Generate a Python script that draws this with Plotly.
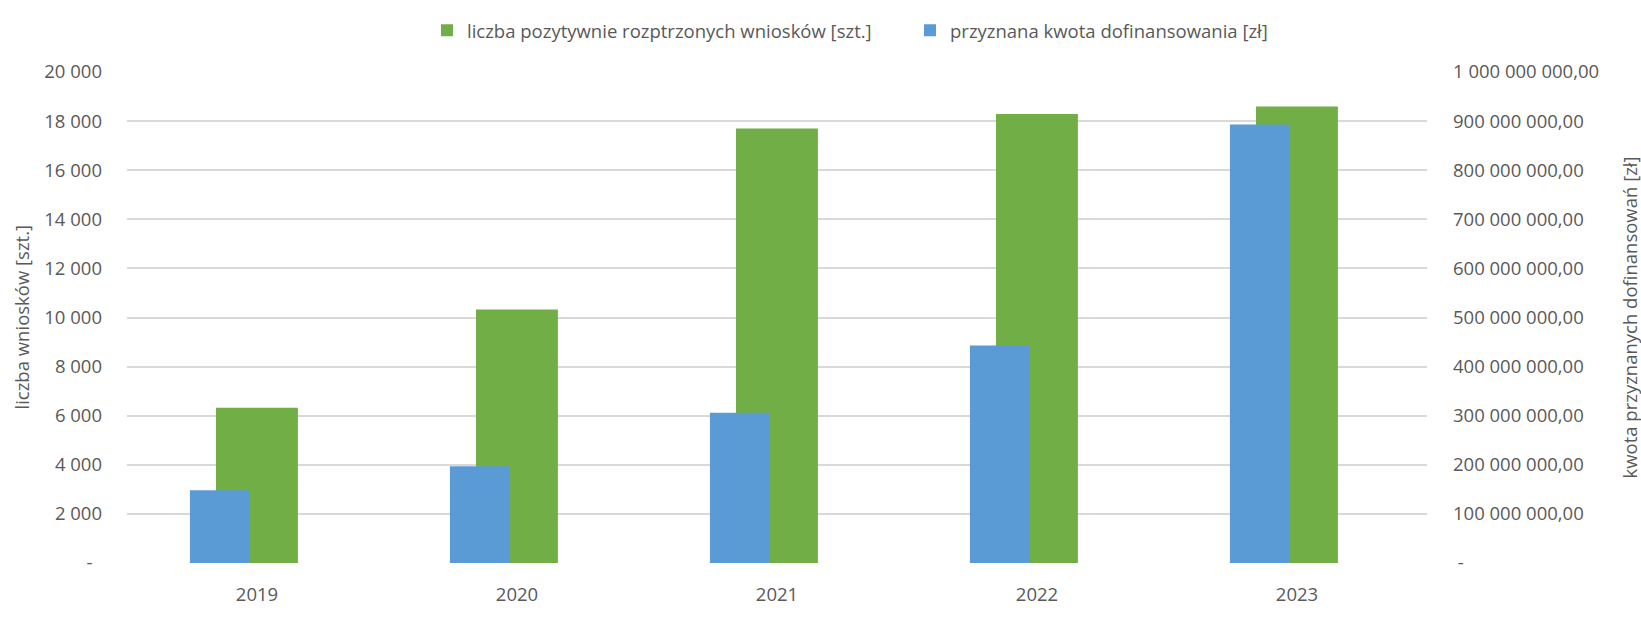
import plotly.graph_objects as go

years = ["2019", "2020", "2021", "2022", "2023"]
wnioski = [6320, 10330, 17700, 18290, 18590]          # liczba pozytywnie rozpatrzonych wniosków [szt.]
kwota = [148000000, 197000000, 306000000, 443000000, 893000000]  # przyznana kwota dofinansowania [zł]

left_vals = [0, 2000, 4000, 6000, 8000, 10000, 12000, 14000, 16000, 18000, 20000]
left_text = ["-\u00a0\u00a0", "2 000", "4 000", "6 000", "8 000", "10 000", "12 000",
             "14 000", "16 000", "18 000", "20 000"]
right_vals = [0, 1e8, 2e8, 3e8, 4e8, 5e8, 6e8, 7e8, 8e8, 9e8, 1e9]
right_text = ["\u00a0-", "100 000 000,00", "200 000 000,00", "300 000 000,00", "400 000 000,00",
              "500 000 000,00", "600 000 000,00", "700 000 000,00", "800 000 000,00",
              "900 000 000,00", "1 000 000 000,00"]

FONT = "'Open Sans', Lato, sans-serif"
GREY = "#595959"
FS = 18.5
W, H = 1641, 618
L, R, T, B = 127, 1641 - 1427, 71, 618 - 583
PW = W - L - R

fig = go.Figure()
fig.add_trace(go.Bar(
    x=years, y=wnioski, name="liczba pozytywnie rozptrzonych wniosków [szt.]",
    marker=dict(color="#71ae46", line=dict(width=0)),
    width=0.315, offset=-0.1577, yaxis="y",
))
fig.add_trace(go.Bar(
    x=years, y=kwota, name="przyznana kwota dofinansowania [zł]",
    marker=dict(color="#5a9bd6", line=dict(width=0)),
    width=0.231, offset=-0.258, yaxis="y2",
))

fig.update_layout(
    width=W, height=H,
    margin=dict(l=L, r=R, t=T, b=B, pad=0),
    paper_bgcolor="white", plot_bgcolor="white",
    barmode="overlay",
    font=dict(family=FONT, size=FS, color=GREY),
    showlegend=True,
    legend=dict(orientation="h", x=(427 - L) / PW, xanchor="left",
                y=(583 - 28) / 512, yanchor="middle",
                entrywidth=438, entrywidthmode="pixels",
                font=dict(size=FS, color=GREY), bgcolor="rgba(0,0,0,0)"),
    xaxis=dict(type="category", showgrid=False, zeroline=False, showline=False,
               ticks="", ticklabelstandoff=18, tickfont=dict(size=FS, color=GREY)),
    yaxis=dict(range=[0, 20000], tickvals=left_vals, ticktext=left_text,
               showgrid=True, gridcolor="#d9d9d9", gridwidth=1.5, zeroline=False,
               showline=False, ticks="", ticklabelstandoff=24,
               tickfont=dict(size=FS, color=GREY)),
    yaxis2=dict(range=[0, 1e9], tickvals=right_vals, ticktext=right_text,
                overlaying="y", side="right", showgrid=False, zeroline=False,
                showline=False, ticks="", ticklabelstandoff=25,
                tickfont=dict(size=FS, color=GREY)),
    annotations=[
        dict(text="liczba wniosków [szt.]", textangle=-90, xref="paper", yref="paper",
             x=(21 - L) / PW, y=0.5, xanchor="center", yanchor="middle", showarrow=False,
             font=dict(size=FS, color=GREY)),
        dict(text="kwota przyznanych dofinansowań [zł]", textangle=-90, xref="paper", yref="paper",
             x=(1629 - L) / PW, y=0.5, xanchor="center", yanchor="middle", showarrow=False,
             font=dict(size=FS, color=GREY)),
    ],
)

fig.write_html("out.html",
               config={"displayModeBar": False},
               post_script="document.body.style.margin='0';document.body.style.padding='0';"
                           "document.documentElement.style.overflow='hidden';")
